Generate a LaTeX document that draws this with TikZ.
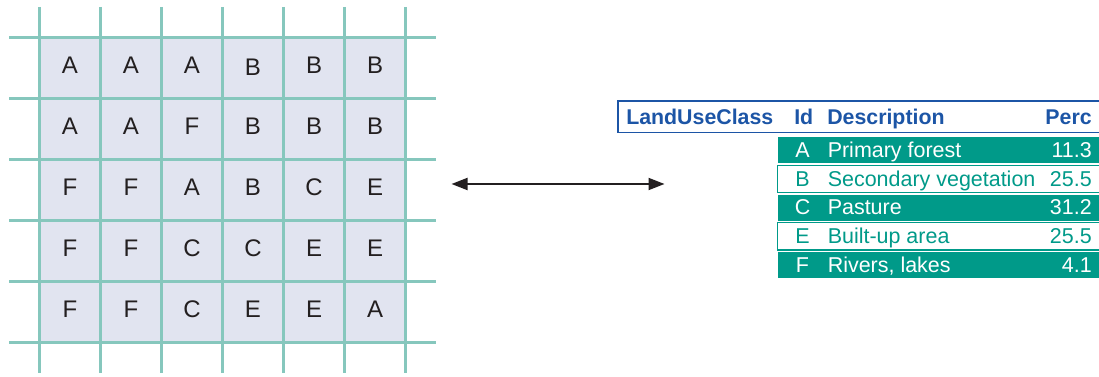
\documentclass[tikz,border=0pt]{standalone}
\usepackage{fontspec}
\setmainfont{Liberation Sans}
\usetikzlibrary{arrows.meta}
\definecolor{gridline}{HTML}{86C7BD}
\definecolor{cellfill}{HTML}{E1E4F0}
\definecolor{lutteal}{HTML}{009A89}
\definecolor{hdrblue}{HTML}{1C55A6}
\definecolor{inkdark}{HTML}{231F20}
\begin{document}
\begin{tikzpicture}[x=0.75pt,y=-0.75pt,
  gridln/.style={draw=gridline, line width=1.7pt},
  cellletter/.style={inner sep=0pt, anchor=base, text=inkdark, font=\fontsize{18pt}{20pt}\selectfont},
  arrowln/.style={draw=inkdark, line width=1.4pt, {Triangle[length=12pt,width=9pt]}-{Triangle[length=12pt,width=9pt]}},
  hdrbox/.style={draw=hdrblue, line width=1pt},
  hdrtext/.style={inner sep=0pt, text=hdrblue, font=\fontsize{16pt}{18pt}\selectfont\bfseries},
  rowfilled/.style={fill=lutteal},
  rowoutlined/.style={draw=lutteal, line width=0.9pt, fill=white},
  filledtext/.style={inner sep=0pt, text=white, font=\fontsize{16.1pt}{18pt}\selectfont},
  outlinedtext/.style={inner sep=0pt, text=lutteal, font=\fontsize{16.1pt}{18pt}\selectfont}
]
\useasboundingbox (0,0) rectangle (1099,377);
% raster grid
\fill[cellfill] (39.5,37.5) rectangle (405.5,342.5);
\foreach \i in {0,...,6} \draw[gridln] ({39.5+61*\i},7) -- ({39.5+61*\i},373);
\foreach \j in {0,...,5} \draw[gridln] (9,{37.5+61*\j}) -- (436,{37.5+61*\j});
\foreach \l [count=\k from 0] in {A,A,A,B,B,B,A,A,F,B,B,B,F,F,A,B,C,E,F,F,C,C,E,E,F,F,C,E,E,A} {
  \pgfmathtruncatemacro\cc{mod(\k,6)}
  \pgfmathtruncatemacro\rr{div(\k,6)}
  \pgfmathsetmacro\dy{ifthenelse(\k==3,2,0)}
  \node[cellletter] (cell-\rr-\cc) at ({70+61*\cc},{74+61*\rr+\dy}) {\l};
}
% double arrow
\coordinate (arrL) at (451.5,184);
\coordinate (arrR) at (664.5,184);
\draw[arrowln] (arrL) -- (arrR);
% table header
\draw[hdrbox] (618,101) rectangle (1110,132.5);
\node[hdrtext, anchor=base west] (hLUC) at (626,125) {LandUseClass};
\node[hdrtext, anchor=base west] (hId) at (794,125) {Id};
\node[hdrtext, anchor=base west] (hDesc) at (827,125) {Description};
\node[hdrtext, anchor=base east] (hPerc) at (1092,125) {Perc};
% rows
\fill[rowfilled] (777.5,137) rectangle (1110,163);
\draw[rowoutlined] (777.5,165.5) rectangle (1110,192.5);
\fill[rowfilled] (777.5,195) rectangle (1110,221);
\draw[rowoutlined] (777.5,222.5) rectangle (1110,250);
\fill[rowfilled] (777.5,252.5) rectangle (1110,278);
\node[filledtext, anchor=base] (idA) at (802.5,157.5) {A};
\node[filledtext, anchor=base west] (dA) at (827.5,157.5) {Primary forest};
\node[filledtext, anchor=base east] (pA) at (1092,157.5) {11.3};
\node[outlinedtext, anchor=base] (idB) at (802.5,186.5) {B};
\node[outlinedtext, anchor=base west] (dB) at (827.5,186.5) {Secondary vegetation};
\node[outlinedtext, anchor=base east] (pB) at (1092,186.5) {25.5};
\node[filledtext, anchor=base] (idC) at (802.5,215) {C};
\node[filledtext, anchor=base west] (dC) at (827.5,215) {Pasture};
\node[filledtext, anchor=base east] (pC) at (1092,215) {31.2};
\node[outlinedtext, anchor=base] (idE) at (802.5,244) {E};
\node[outlinedtext, anchor=base west] (dE) at (827.5,244) {Built-up area};
\node[outlinedtext, anchor=base east] (pE) at (1092,244) {25.5};
\node[filledtext, anchor=base] (idF) at (802.5,272.5) {F};
\node[filledtext, anchor=base west] (dF) at (827.5,272.5) {Rivers, lakes};
\node[filledtext, anchor=base east] (pF) at (1092,272.5) {4.1};
\end{tikzpicture}
\end{document}
